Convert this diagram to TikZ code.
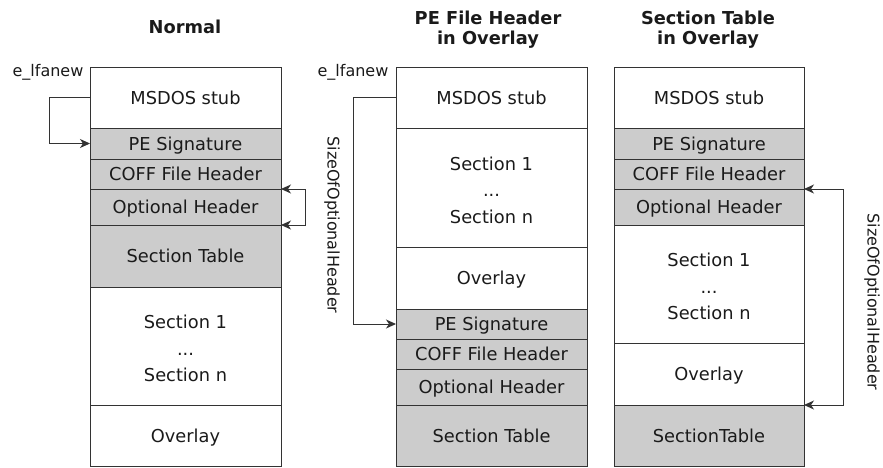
\documentclass[tikz,border=0pt]{standalone}
\usepackage{fontspec}
\setmainfont{DejaVu Sans}
\usetikzlibrary{arrows.meta,calc}
\definecolor{hdr}{HTML}{CCCCCC}
\definecolor{edge}{HTML}{333333}
\definecolor{ink}{HTML}{1A1A1A}
\tikzset{
  blk/.style={draw=edge, line width=1pt, anchor=north west, inner sep=0pt, outer sep=0pt,
    text=ink, font=\fontsize{17.8}{26.5}\selectfont, align=center, text depth=0pt, minimum width=#1},
  blk/.default=191pt,
  hd/.style={fill=hdr},
  secs/.style={text height=71.5pt},
  arr/.style={draw=edge, line width=1pt, -{Stealth[length=10pt,width=9pt,inset=3pt]}},
  lbl/.style={text=ink, font=\fontsize{16}{19}\selectfont, inner sep=0pt},
  ttl/.style={text=ink, font=\bfseries\fontsize{17.8}{20}\selectfont, align=center, inner sep=0pt},
}
\begin{document}
\begin{tikzpicture}[x=1pt,y=-1pt]
\useasboundingbox (0,0) rectangle (883,467);

% titles
\node[ttl] (t1) at (185,27) {Normal};
\node[ttl] (t2) at (488,30) {PE File Header\\in Overlay};
\node[ttl] (t3) at (708,30) {Section Table\\in Overlay};

% column 1
\node[blk, minimum height=61pt] (a1) at (90,67) {MSDOS stub};
\node[blk, hd, minimum height=31pt] (a2) at (90,128) {PE Signature};
\node[blk, hd, minimum height=30pt] (a3) at (90,159) {COFF File Header};
\node[blk, hd, minimum height=36pt] (a4) at (90,189) {Optional Header};
\node[blk, hd, minimum height=62pt] (a5) at (90,225) {Section Table};
\node[blk, secs, minimum height=118pt] (a6) at (90,287) {Section 1\\...\\Section n};
\node[blk, minimum height=61pt] (a7) at (90,405) {Overlay};

% column 2
\node[blk, minimum height=61pt] (b1) at (396,67) {MSDOS stub};
\node[blk, secs, minimum height=119pt] (b2) at (396,128) {Section 1\\...\\Section n};
\node[blk, minimum height=62pt] (b3) at (396,247) {Overlay};
\node[blk, hd, minimum height=30pt] (b4) at (396,309) {PE Signature};
\node[blk, hd, minimum height=30pt] (b5) at (396,339) {COFF File Header};
\node[blk, hd, minimum height=36pt] (b6) at (396,369) {Optional Header};
\node[blk, hd, minimum height=61pt] (b7) at (396,405) {Section Table};

% column 3
\node[blk=190pt, minimum height=61pt] (c1) at (614,67) {MSDOS stub};
\node[blk=190pt, hd, minimum height=31pt] (c2) at (614,128) {PE Signature};
\node[blk=190pt, hd, minimum height=30pt] (c3) at (614,159) {COFF File Header};
\node[blk=190pt, hd, minimum height=36pt] (c4) at (614,189) {Optional Header};
\node[blk=190pt, secs, minimum height=118pt] (c5) at (614,225) {Section 1\\...\\Section n};
\node[blk=190pt, minimum height=62pt] (c6) at (614,343) {Overlay};
\node[blk=190pt, hd, minimum height=61pt] (c7) at (614,405) {SectionTable};

% labels
\node[lbl] (e1) at (48,72) {e\_lfanew};
\node[lbl] (e2) at (353,72) {e\_lfanew};
\node[lbl, rotate=-90] (s2) at (332,225) {SizeOfOptionalHeader};
\node[lbl, rotate=-90] (s3) at (872,302) {SizeOfOptionalHeader};

% connectors
\draw[arr] (a1.west) -- ++(-41,0) |- (a2.west);
\coordinate (k1) at ($(a4.north east)+(24,0)$);
\draw[arr] (k1) -- (a4.north east);
\draw[arr] (k1) |- (a4.south east);

\draw[arr] (b1.west) -- ++(-43,0) |- (b4.west);

\coordinate (k3) at ($(c4.north east)+(39,0)$);
\draw[arr] (k3) -- (c4.north east);
\draw[arr] (k3) |- (c7.north east);
\end{tikzpicture}
\end{document}
